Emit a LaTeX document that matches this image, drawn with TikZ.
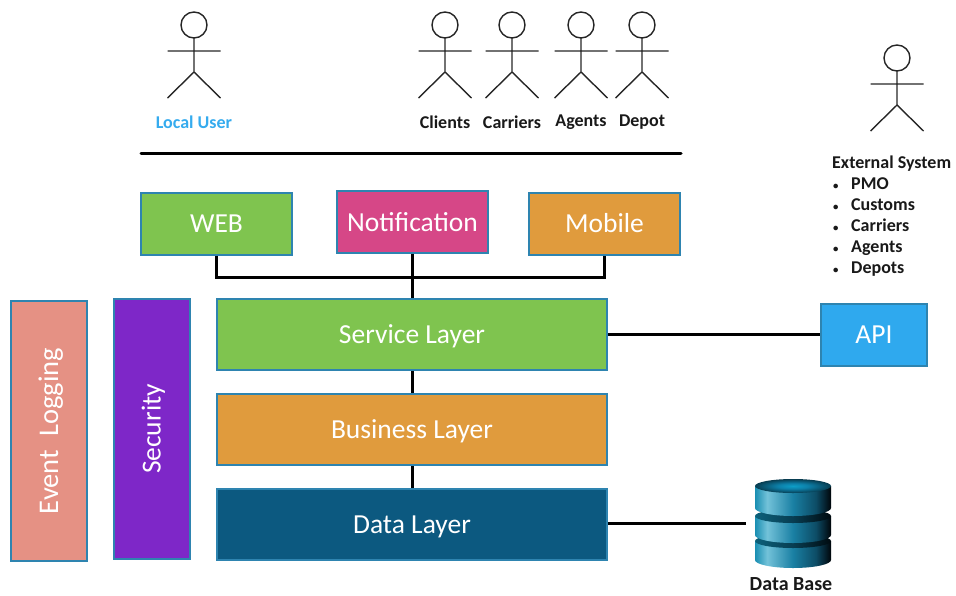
\documentclass[tikz,border=0pt]{standalone}
\usepackage{fontspec}
\setmainfont{Carlito}
\definecolor{boxedge}{HTML}{2E84B0}
\definecolor{webgreen}{HTML}{7FC44F}
\definecolor{notifypink}{HTML}{D64787}
\definecolor{mobileorange}{HTML}{E09B3D}
\definecolor{datablue}{HTML}{0C5980}
\definecolor{apiblue}{HTML}{2FA9EE}
\definecolor{logsalmon}{HTML}{E59184}
\definecolor{securepurple}{HTML}{7E27C8}
\definecolor{localblue}{HTML}{35ABEE}
\pgfdeclarehorizontalshading{dbbody}{100bp}{
  rgb(0bp)=(0.10,0.56,0.70);
  rgb(25bp)=(0.10,0.56,0.70);
  rgb(33bp)=(0.45,0.76,0.85);
  rgb(50bp)=(0.10,0.50,0.64);
  rgb(65bp)=(0.05,0.30,0.40);
  rgb(75bp)=(0,0.02,0.04);
  rgb(100bp)=(0,0.02,0.04)}
\pgfdeclarehorizontalshading{dbring}{100bp}{
  rgb(0bp)=(0.05,0.38,0.48);
  rgb(25bp)=(0.05,0.38,0.48);
  rgb(50bp)=(0.03,0.24,0.32);
  rgb(75bp)=(0,0.04,0.06);
  rgb(100bp)=(0,0.04,0.06)}
\pgfdeclareradialshading{dbtop}{\pgfpointorigin}{
  rgb(0bp)=(0.05,0.62,0.78);
  rgb(10bp)=(0.05,0.50,0.66);
  rgb(25bp)=(0.03,0.24,0.32);
  rgb(50bp)=(0.01,0.10,0.14)}
\tikzset{
  pics/actor/.style={code={
    \draw[actorline] (0,0) circle (13);
    \draw[actorline] (0,13) -- (0,47) (-26.5,26) -- (26.5,26) (-26.5,73) -- (0,47) -- (26.5,73);
  }},
  pics/disc/.style n args={3}{code={
    \shade[shading=dbbody] (-38,0) -- (-38,#1) arc[x radius=38,y radius=8,start angle=180,end angle=0] -- (38,0) -- cycle;
    \shade[shading=#3] (0,0) ellipse[x radius=38,y radius=#2];
  }},
}
\newcommand{\listdot}{\makebox[19pt][l]{\hspace{1pt}\scalebox{0.6}{\textbullet}}}
\begin{document}
\begin{tikzpicture}[x=1pt,y=-1pt,node distance=95pt]
  \tikzstyle{layer}=[rectangle,draw=boxedge,line width=2pt,text=white,text height=22pt,text depth=4pt,font=\fontsize{27.5}{30}\selectfont]
  \tikzstyle{topbox}=[layer,minimum width=151pt,minimum height=62pt]
  \tikzstyle{widebox}=[layer,minimum width=390pt,minimum height=71pt]
  \tikzstyle{sidebox}=[layer,minimum width=260pt,minimum height=76pt,rotate=90]
  \tikzstyle{actorline}=[line width=1.4pt,draw=black!85]
  \tikzstyle{actorlabel}=[font=\fontsize{18}{21}\selectfont\bfseries,text=black!90]
  \tikzstyle{wire}=[line width=3pt,black]

  \useasboundingbox (0,0) rectangle (956,595);

  \pic at (194,25) {actor};
  \pic at (445,25) {actor};
  \pic at (512,25) {actor};
  \pic at (581,25) {actor};
  \pic at (642,25) {actor};
  \pic at (897,58) {actor};

  \node[actorlabel,text=localblue] at (194,122) (localuser) {Local User};
  \node[actorlabel] at (445,122) (clients)  {Clients};
  \node[actorlabel] at (512,122) (carriers) {Carriers};
  \node[actorlabel] at (581,122) (agents)   {Agents};
  \node[actorlabel] at (642,122) (depot)    {Depot};
  \node[actorlabel,align=left,anchor=north west,inner sep=0pt] at (832,156) (external) {External System\\
    \listdot PMO\\
    \listdot Customs\\
    \listdot Carriers\\
    \listdot Agents\\
    \listdot Depots};

  \coordinate (ruleleft) at (141,153);
  \coordinate (ruleright) at (681,153);
  \draw[wire,line cap=round] (ruleleft) -- (ruleright);

  \node[topbox,fill=webgreen]     at (216.5,223.5) (web)    {WEB};
  \node[topbox,fill=notifypink]   at (412.5,222) (notify) {Notification};
  \node[topbox,fill=mobileorange] at (604.5,223.5) (mobile) {Mobile};

  \node[widebox,fill=webgreen]     at (412,334.5) (service) {Service Layer};
  \node[widebox,fill=mobileorange] (business) [below of=service] {Business Layer};
  \node[widebox,fill=datablue]     (data) [below of=business]    {Data Layer};

  \node[layer,fill=apiblue,minimum width=106pt,minimum height=62pt] at (874,334.5) (api) {API};
  \node[sidebox,fill=logsalmon,font=\fontsize{28.5}{30}\selectfont] at (49,431) (logging)  {Event\ \ Logging};
  \node[sidebox,fill=securepurple] at (151.5,429) (security) {Security};

  % database, bottom disc first
  \pic at (793,541) {disc={19}{7}{dbring}};
  \pic at (793,516) {disc={19}{7}{dbring}};
  \pic at (793,486) {disc={22}{7}{dbtop}};
  \coordinate (dbleft) at (746,523.5);
  \node[actorlabel,font=\fontsize{20}{24}\selectfont\bfseries,inner sep=0pt] at (791,584.5) (dblabel) {Data Base};

  \coordinate (bus) at (413,277);
  \draw[wire] (web.south) |- (bus) -| (mobile.south);
  \draw[wire] (notify) -- (notify |- service.north);
  \draw[wire] (service) -- (business);
  \draw[wire] (business) -- (data);
  \draw[wire] (service.east) -- (api.west);
  \draw[wire] (data.east |- dbleft) -- (dbleft);
\end{tikzpicture}
\end{document}
